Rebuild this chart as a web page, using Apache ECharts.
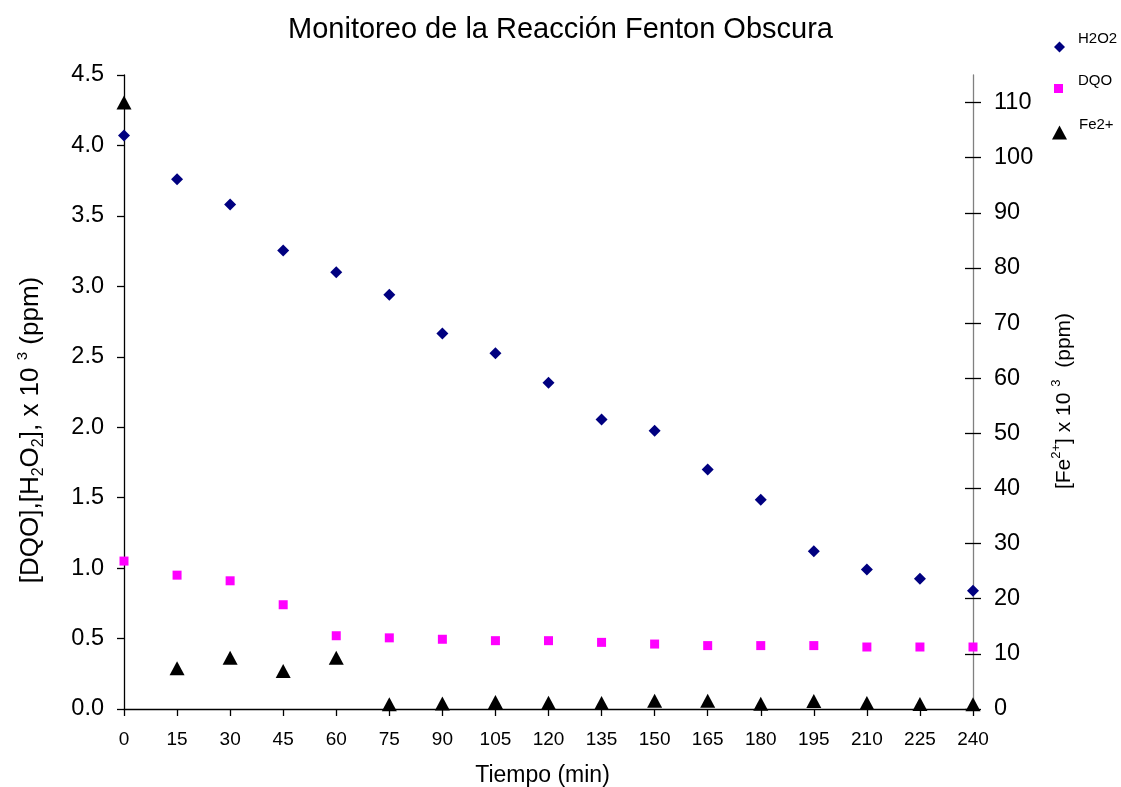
<!DOCTYPE html>
<html>
<head>
<meta charset="utf-8">
<script src="https://cdn.jsdelivr.net/npm/echarts@6/dist/echarts.min.js"></script>
<style>
  html, body { margin: 0; padding: 0; background: #fff; }
  #chart { width: 1121px; height: 787px; }
</style>
</head>
<body>
<div id="chart"></div>
<script>
// Sampling times (min)
const times = [0, 15, 30, 45, 60, 75, 90, 105, 120, 135, 150, 165, 180, 195, 210, 225, 240];
// [H2O2] x 10^3 (ppm)
const h2o2 = [4.07, 3.76, 3.58, 3.255, 3.10, 2.94, 2.665, 2.525, 2.315, 2.055, 1.975, 1.70, 1.485, 1.12, 0.99, 0.925, 0.84];
// [DQO] x 10^3 (ppm)
const dqo = [1.05, 0.95, 0.91, 0.74, 0.52, 0.505, 0.495, 0.485, 0.485, 0.473, 0.461, 0.45, 0.45, 0.45, 0.44, 0.44, 0.44];
// [Fe2+] x 10^3 (ppm), right axis
const fe = [110, 7.4, 9.3, 6.9, 9.3, 0.85, 1.0, 1.25, 1.15, 1.1, 1.5, 1.5, 0.95, 1.45, 1.1, 0.9, 0.85];
// Right axis tick values
const feTicks = [0, 10, 20, 30, 40, 50, 60, 70, 80, 90, 100, 110];

const FONT = '"Liberation Sans", Arial, Helvetica, sans-serif';
const pairs = (ys) => times.map((t, i) => [t, ys[i]]);

const chart = echarts.init(document.getElementById('chart'), null, { renderer: 'canvas' });

// one legend block per series so each marker keeps its own size
function legendBlock(name, icon, w, h, left, top, gap) {
  return {
    orient: 'vertical',
    left: left,
    top: top,
    padding: 0,
    itemGap: 0,
    itemWidth: w,
    itemHeight: h,
    selectedMode: false,
    data: [{ name: name, icon: icon, itemStyle: { opacity: 1 } }],
    formatter: '{a|{name}}',
    textStyle: {
      fontFamily: FONT, fontSize: 15, color: '#000',
      rich: { a: { fontFamily: FONT, fontSize: 15, color: '#000', padding: [0, 0, 16, gap] } }
    }
  };
}

chart.setOption({
  animation: false,
  backgroundColor: '#fff',
  title: {
    text: 'Monitoreo de la Reacción Fenton Obscura',
    left: 'center',
    top: 10,
    textStyle: { fontFamily: FONT, fontSize: 29, fontWeight: 'normal', color: '#000' }
  },
  legend: [
    legendBlock('H2O2', 'diamond', 11, 11, 1054, 31.5, 8),
    legendBlock('DQO', 'rect', 9, 9, 1054, 73, 10),
    legendBlock('Fe2+', 'triangle', 15, 14, 1052, 117, 7)
  ],
  grid: { left: 124, right: 148, top: 75, bottom: 78, containLabel: false, outerBoundsMode: 'none' },
  xAxis: {
    type: 'value',
    min: 0,
    max: 240,
    interval: 15,
    name: 'Tiempo (min)',
    nameLocation: 'middle',
    nameGap: 55,
    nameTextStyle: { fontFamily: FONT, fontSize: 23, color: '#000', padding: [0, 12, 0, 0] },
    axisLine: { show: true, onZero: false, lineStyle: { color: '#000', width: 1.3 } },
    axisTick: { show: true, inside: false, length: 7, lineStyle: { color: '#000', width: 1.3 } },
    axisLabel: { fontFamily: FONT, fontSize: 19, color: '#000', margin: 21 },
    splitLine: { show: false }
  },
  yAxis: [
    {
      type: 'value',
      position: 'left',
      min: 0,
      max: 4.5,
      interval: 0.5,
      name: '{t|[DQO],[H}{sub|2}{t|O}{sub|2}{t|], x 10 }{sup|3}{t| (ppm)}',
      nameLocation: 'middle',
      nameRotate: 90,
      nameGap: 77,
      nameTextStyle: {
        fontFamily: FONT, color: '#000', padding: [0, 76, 0, 0],
        rich: {
          t: { fontFamily: FONT, fontSize: 26, lineHeight: 32, color: '#000' },
          sub: { fontFamily: FONT, fontSize: 16, lineHeight: 17, verticalAlign: 'bottom', color: '#000' },
          sup: { fontFamily: FONT, fontSize: 15, lineHeight: 15, verticalAlign: 'top', color: '#000' }
        }
      },
      axisLine: { show: true, lineStyle: { color: '#000', width: 1.3 } },
      axisTick: { show: true, inside: false, length: 7, lineStyle: { color: '#000', width: 1.3 } },
      axisLabel: {
        fontFamily: FONT, fontSize: 23.5, color: '#000', margin: 20,
        formatter: (v) => v.toFixed(1)
      },
      splitLine: { show: false }
    },
    {
      type: 'value',
      position: 'right',
      min: 0,
      max: 115,
      name: '{t|[Fe}{sup|2+}{t|] x 10 }{sup|3}{t|  (ppm)}',
      nameLocation: 'middle',
      nameRotate: 90,
      nameGap: 77,
      nameTextStyle: {
        fontFamily: FONT, color: '#000', padding: [0, 18, 0, 0],
        rich: {
          t: { fontFamily: FONT, fontSize: 21, lineHeight: 28, color: '#000' },
          sup: { fontFamily: FONT, fontSize: 13, lineHeight: 13, verticalAlign: 'top', color: '#000' }
        }
      },
      axisLine: { show: true, lineStyle: { color: '#808080', width: 1.3 } },
      axisTick: { show: true, inside: false, length: 8, customValues: feTicks, lineStyle: { color: '#000', width: 1.3 } },
      axisLabel: { fontFamily: FONT, fontSize: 23.5, color: '#000', margin: 21, customValues: feTicks },
      splitLine: { show: false }
    },
    {
      // inner half of the crossing tick marks on the right axis
      type: 'value',
      position: 'right',
      min: 0,
      max: 115,
      axisLine: { show: false },
      axisTick: { show: true, inside: true, length: 8, customValues: feTicks, lineStyle: { color: '#000', width: 1.3 } },
      axisLabel: { show: false },
      splitLine: { show: false }
    }
  ],
  series: [
    {
      name: 'H2O2',
      type: 'scatter',
      yAxisIndex: 0,
      symbol: 'diamond',
      symbolSize: 12,
      clip: false,
      itemStyle: { color: '#000080', opacity: 1 },
      data: pairs(h2o2)
    },
    {
      name: 'DQO',
      type: 'scatter',
      yAxisIndex: 0,
      symbol: 'rect',
      symbolSize: 9,
      clip: false,
      itemStyle: { color: '#FF00FF', opacity: 1 },
      data: pairs(dqo)
    },
    {
      name: 'Fe2+',
      type: 'scatter',
      yAxisIndex: 1,
      symbol: 'triangle',
      symbolSize: [15, 14],
      clip: false,
      itemStyle: { color: '#000', opacity: 1 },
      data: pairs(fe)
    }
  ]
});
</script>
</body>
</html>
